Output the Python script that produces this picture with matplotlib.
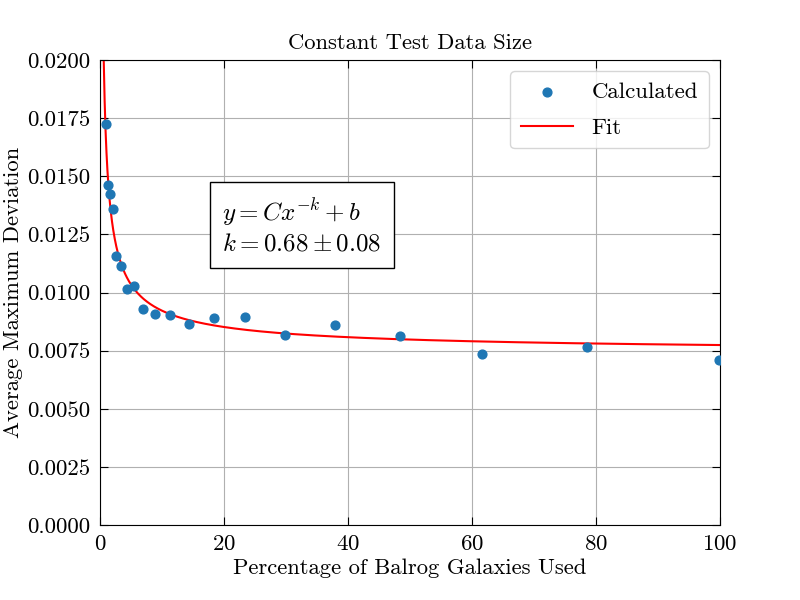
import numpy as np
import matplotlib
matplotlib.use("Agg")
import matplotlib.pyplot as plt

plt.rcParams['font.family'] = ['cmr10', 'DejaVu Serif']
plt.rcParams['mathtext.fontset'] = 'cm'
plt.rcParams['axes.unicode_minus'] = False
plt.rcParams['axes.formatter.use_mathtext'] = True

# data
pct_used = [0.97, 1.29, 1.6, 2.1, 2.6, 3.4, 4.4, 5.5, 6.9, 8.9,
            11.3, 14.4, 18.4, 23.4, 29.8, 37.9, 48.4, 61.6, 78.5, 99.8]
avg_max_dev = [0.01725, 0.01462, 0.01424, 0.01359, 0.01157, 0.01114, 0.01015,
               0.01028, 0.00929, 0.00908, 0.00903, 0.00865, 0.0089, 0.00895,
               0.00817, 0.0086, 0.00813, 0.00735, 0.00766, 0.0071]

# fit parameters y = C x^-k + b
fit_C = 0.00894
fit_k = 0.68
fit_b = 0.00735

x_fit = np.linspace(0.5, 100, 2000)
y_fit = fit_C * x_fit ** (-fit_k) + fit_b

fig, ax = plt.subplots(figsize=(8, 6), dpi=100)
fig.subplots_adjust(left=0.125, right=0.9, bottom=0.125, top=0.9)

ax.scatter(pct_used, avg_max_dev, color='#1f77b4', s=40, label='Calculated', zorder=3)
ax.plot(x_fit, y_fit, color='red', lw=1.5, label='Fit', zorder=2)

ax.set_xlim(0, 100)
ax.set_ylim(0, 0.02)
yticks = np.arange(0, 0.0201, 0.0025)
ax.set_yticks(yticks)
ax.set_yticklabels([f"{v:.4f}" for v in yticks])
ax.tick_params(direction='in', top=True, right=True, labelsize=16.5, length=6)
ax.tick_params(axis='x', pad=7)
ax.tick_params(axis='y', pad=7)
ax.grid(True, color='#b0b0b0')
ax.set_axisbelow(True)

ax.set_title('Constant Test Data Size', fontsize=16.3, pad=8)
ax.set_xlabel('Percentage of Balrog Galaxies Used', fontsize=16.3, labelpad=3)
ax.set_ylabel('Average Maximum Deviation', fontsize=16.3, labelpad=3)

ax.text(0.197, 0.643, '$y = Cx^{-k} + b$\n$k = 0.68 \\pm 0.08$', transform=ax.transAxes,
        fontsize=18, va='center', ha='left', linespacing=1.3,
        bbox=dict(boxstyle='square,pad=0.5', facecolor='white', edgecolor='black'))

ax.legend(loc='upper right', fontsize=16.5, labelspacing=0.7, handlelength=2.3,
          borderaxespad=0.5, borderpad=0.45)

plt.savefig('out.png', dpi=100)
